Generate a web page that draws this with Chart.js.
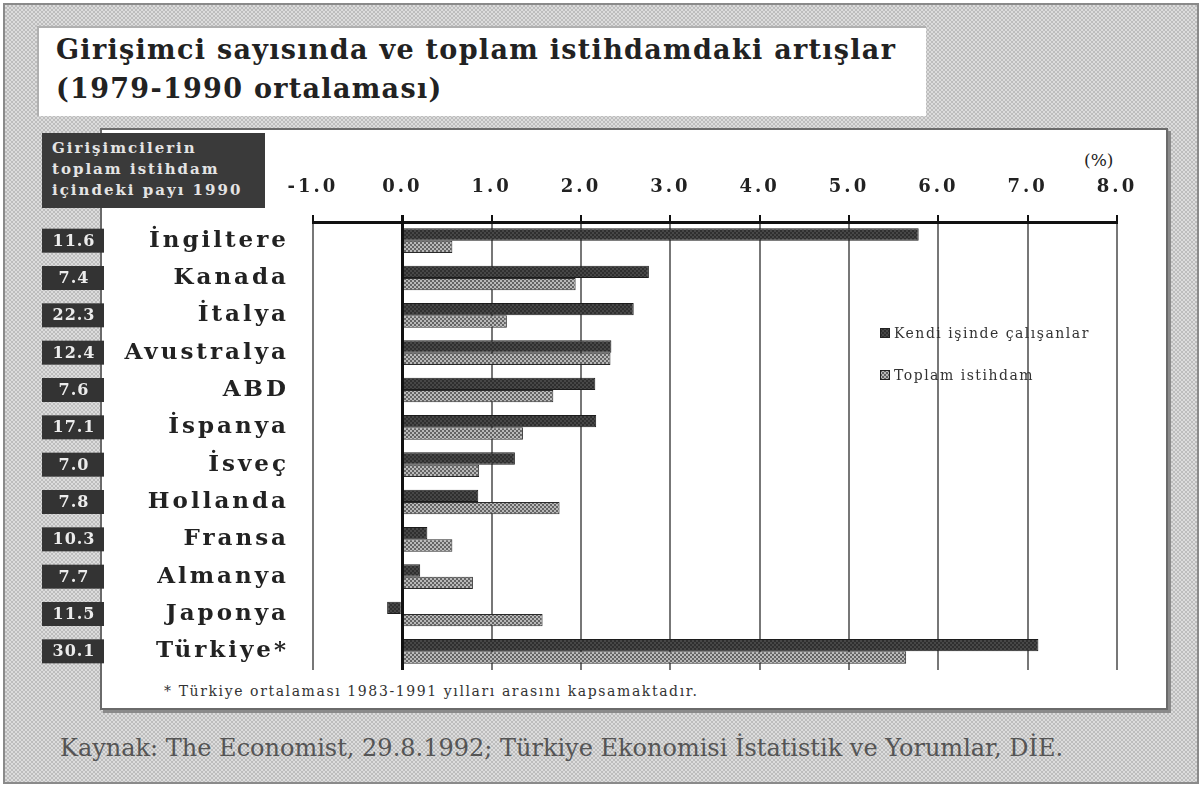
<!DOCTYPE html>
<html lang="tr">
<head>
<meta charset="utf-8">
<title>Girişimci sayısında ve toplam istihdamdaki artışlar</title>
<script src="https://cdn.jsdelivr.net/npm/chart.js@4.4.1/dist/chart.umd.min.js"></script>
<style>
html, body { margin: 0; padding: 0; background: #fff; }
#page { position: relative; width: 1202px; height: 787px; overflow: hidden; }
#frame { position: absolute; left: 3px; top: 3px; width: 1196px; height: 781px; box-sizing: border-box;
  border: 2px solid #8a8a8a;
  background: #cdcdcd repeating-conic-gradient(#bdbdbd 0 25%, #dcdcdc 0 50%) 0 0 / 4px 4px; }
#titleBox { position: absolute; left: 37px; top: 26px; width: 889px; height: 90px; background: #fff;
  border-top: 2px solid #b0b0b0; border-left: 2px solid #b0b0b0; box-sizing: border-box; }
#title { position: absolute; left: 56px; top: 30px; font: bold 27px 'DejaVu Serif'; color: #222; line-height: 39px; letter-spacing: 1.3px; }
#panel { position: absolute; left: 100px; top: 128px; width: 1068px; height: 582px; background: #fff;
  border: 2px solid #6a6a6a; box-sizing: border-box; box-shadow: 3px 3px 0 #8a8a8a; }
#shareHead { position: absolute; left: 42px; top: 133px; width: 223px; height: 75px; background: #3a3a3a;
  color: #e4e4e4; font: bold 15px 'DejaVu Serif'; line-height: 21px; padding: 5px 0 0 10px; box-sizing: border-box; letter-spacing: 2px; }
#pct { position: absolute; left: 1084px; top: 150px; font: 17px 'DejaVu Serif'; color: #222; }
#note { position: absolute; left: 164px; top: 683px; font: 14px 'DejaVu Serif'; color: #333; letter-spacing: 1.6px; }
#source { position: absolute; left: 60px; top: 734px; font: 24px 'DejaVu Serif'; color: #555; }
#chartWrap { position: absolute; left: 0; top: 0; width: 1202px; height: 787px; }
</style>
</head>
<body>
<div id="page">
  <div id="frame"></div>
  <div id="titleBox"></div>
  <div id="title">Girişimci sayısında ve toplam istihdamdaki artışlar<br>(1979-1990 ortalaması)</div>
  <div id="panel"></div>
  <div id="shareHead">Girişimcilerin<br>toplam istihdam<br>içindeki payı 1990</div>
  <div id="pct">(%)</div>
  <div id="note">* Türkiye ortalaması 1983-1991 yılları arasını kapsamaktadır.</div>
  <div id="source">Kaynak: The Economist, 29.8.1992; Türkiye Ekonomisi İstatistik ve Yorumlar, DİE.</div>
  <div id="chartWrap"><canvas id="chart"></canvas></div>
</div>
<script>
// values (% per year, 1979-1990 average)
const countries = ['İngiltere', 'Kanada', 'İtalya', 'Avustralya', 'ABD', 'İspanya',
                   'İsveç', 'Hollanda', 'Fransa', 'Almanya', 'Japonya', 'Türkiye*'];
const selfEmployed = [5.78, 2.76, 2.59, 2.34, 2.16, 2.17, 1.26, 0.85, 0.28, 0.2, -0.17, 7.12];
const totalEmployment = [0.56, 1.94, 1.17, 2.33, 1.69, 1.35, 0.86, 1.76, 0.56, 0.79, 1.57, 5.64];
const shares1990 = ['11.6', '7.4', '22.3', '12.4', '7.6', '17.1', '7.0', '7.8', '10.3', '7.7', '11.5', '30.1'];
const xTicks = [-1, 0, 1, 2, 3, 4, 5, 6, 7, 8];

// little screen patterns like the printed bars
function makePattern(base, dot) {
    const c = document.createElement('canvas');
    c.width = 4; c.height = 4;
    const g = c.getContext('2d');
    g.fillStyle = base;
    g.fillRect(0, 0, 4, 4);
    g.fillStyle = dot;
    g.fillRect(0, 0, 2, 2);
    g.fillRect(2, 2, 2, 2);
    return g.createPattern(c, 'repeat');
}
const darkFill = makePattern('#2f2f2f', '#474747');
const hatchFill = makePattern('#646464', '#b9b9b9');

// wide printed type: space the axis labels a bit
const letterSpacing = {
    id: 'letterSpacing',
    beforeDraw(chart) { chart.ctx.letterSpacing = '3px'; },
    beforeDatasetsDraw(chart) { chart.ctx.letterSpacing = '0px'; }
};

// dark boxes with the 1990 share, one per country row
const shareBoxes = {
    id: 'shareBoxes',
    afterDraw(chart) {
        const ctx = chart.ctx;
        const y = chart.scales.y;
        ctx.save();
        ctx.font = 'bold 16px "DejaVu Serif"';
        ctx.letterSpacing = '1px';
        ctx.textAlign = 'center';
        ctx.textBaseline = 'middle';
        shares1990.forEach((s, i) => {
            const cy = y.getPixelForValue(i);
            ctx.fillStyle = '#333';
            ctx.fillRect(42, cy - 12, 62, 24);
            ctx.fillStyle = '#ececec';
            ctx.fillText(s, 74, cy + 1);
        });
        ctx.restore();
    }
};

// legend inside the plot, right side
const insideLegend = {
    id: 'insideLegend',
    afterDraw(chart) {
        const ctx = chart.ctx;
        ctx.save();
        ctx.font = '14px "DejaVu Serif"';
        ctx.letterSpacing = '1.5px';
        ctx.textBaseline = 'middle';
        chart.data.datasets.forEach((ds, i) => {
            const ly = 333 + i * 42;
            ctx.fillStyle = ds.backgroundColor;
            ctx.fillRect(880, ly - 5, 10, 10);
            ctx.strokeStyle = '#222';
            ctx.lineWidth = 1;
            ctx.strokeRect(880.5, ly - 4.5, 9, 9);
            ctx.fillStyle = '#333';
            ctx.fillText(ds.label, 894, ly + 1);
        });
        ctx.restore();
    }
};

const ctx = document.getElementById('chart').getContext('2d');
const chart = new Chart(ctx, {
    type: 'bar',
    data: {
        labels: countries,
        datasets: [{
            label: 'Kendi işinde çalışanlar',
            data: selfEmployed,
            backgroundColor: darkFill,
            borderColor: '#1c1c1c',
            borderWidth: 1,
            barPercentage: 1,
            categoryPercentage: 0.66
        }, {
            label: 'Toplam istihdam',
            data: totalEmployment,
            backgroundColor: hatchFill,
            borderColor: '#2a2a2a',
            borderWidth: 1,
            barPercentage: 1,
            categoryPercentage: 0.66
        }]
    },
    options: {
        indexAxis: 'y',
        responsive: true,
        maintainAspectRatio: false,
        animation: false,
        layout: { padding: { left: 0, right: 85, top: 140, bottom: 117 } },
        scales: {
            x: {
                type: 'linear',
                position: 'top',
                min: -1,
                max: 8,
                afterBuildTicks: (scale) => { scale.ticks = xTicks.map(v => ({ value: v })); },
                afterFit: (scale) => { scale.height = 82; },
                ticks: {
                    callback: (v) => Number(v).toFixed(1),
                    font: { family: 'DejaVu Serif', size: 18, weight: 'bold' },
                    color: '#222',
                    padding: 17
                },
                grid: {
                    color: (c) => c.tick && c.tick.value === 0 ? '#111' : '#777',
                    lineWidth: (c) => c.tick && c.tick.value === 0 ? 3 : 2,
                    tickLength: 7,
                    tickColor: '#111'
                },
                border: { color: '#111', width: 3 }
            },
            y: {
                type: 'category',
                afterFit: (scale) => { scale.width = 313; },
                ticks: {
                    font: { family: 'DejaVu Serif', size: 23, weight: 'bold' },
                    color: '#222',
                    padding: 24
                },
                grid: { display: false, drawTicks: false },
                border: { display: false }
            }
        },
        plugins: {
            legend: { display: false },
            tooltip: { enabled: false }
        }
    },
    plugins: [letterSpacing, shareBoxes, insideLegend]
});
</script>
</body>
</html>
